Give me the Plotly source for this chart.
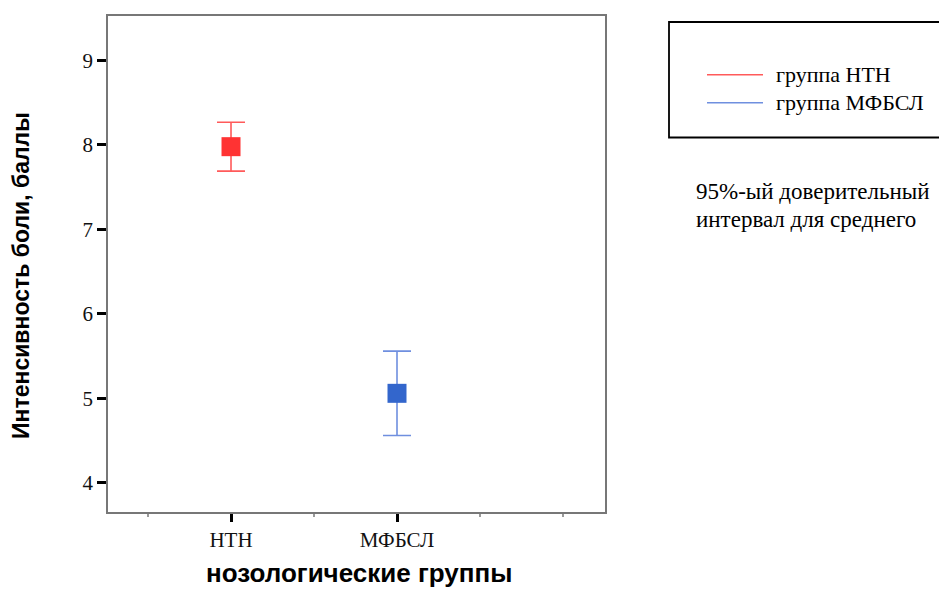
import plotly.graph_objects as go

# ---- data ----
groups = ["НТН", "МФБСЛ"]
group_pos = [1, 2]
means = [7.98, 5.06]
ci_lower = [7.69, 4.56]
ci_upper = [8.27, 5.56]
legend_labels = ["группа НТН", "группа МФБСЛ"]
marker_colors = ["#ff3333", "#3366cc"]
bar_colors = ["#ff5a5a", "#6f8fdf"]
y_ticks = [4, 5, 6, 7, 8, 9]
note_lines = ["95%-ый доверительный", "интервал для среднего"]

OFF = 8  # page body margin
W, H = 947 - OFF, 589 - OFF
# plot area in reference (screen) pixels
PL, PT, PR, PB = 108, 14, 605, 512
L, T = PL - OFF, PT - OFF
R, B = W - (PR - OFF), H - (PB - OFF)
pw, ph = PR - PL, PB - PT

def px(x):
    return (x - PL) / pw

def py(y):
    return (PB - y) / ph

fig = go.Figure()
for i in range(len(groups)):
    fig.add_trace(go.Scatter(
        x=[group_pos[i]], y=[means[i]], mode="markers",
        marker=dict(symbol="square", size=19, color=marker_colors[i]),
        error_y=dict(type="data", symmetric=False,
                     array=[ci_upper[i] - means[i]],
                     arrayminus=[means[i] - ci_lower[i]],
                     color=bar_colors[i], thickness=1.6, width=14),
        showlegend=False, hoverinfo="skip"))

serif = "Liberation Serif"
sans = "Liberation Sans"

fig.update_layout(
    width=W, height=H,
    margin=dict(l=L, r=R, t=T, b=B),
    paper_bgcolor="white", plot_bgcolor="white",
    showlegend=False,
    xaxis=dict(range=[0.259, 3.253], tickvals=group_pos, ticktext=groups,
               showgrid=False, zeroline=False,
               showline=True, linecolor="#777777", linewidth=1.5, mirror=True,
               ticks="outside", ticklen=8, tickwidth=3, tickcolor="black",
               tickfont=dict(family=serif, size=21, color="#111"),
               minor=dict(tickvals=[0.5, 1.5, 2.5, 3.0], ticks="outside",
                          ticklen=3, tickwidth=2, tickcolor="#999999", showgrid=False)),
    yaxis=dict(range=[3.655, 9.527], tickvals=y_ticks,
               showgrid=False, zeroline=False,
               showline=True, linecolor="#777777", linewidth=1.5, mirror=True,
               ticks="outside", ticklen=9, tickwidth=3, tickcolor="black",
               tickfont=dict(family=serif, size=21, color="#111")),
)

# axis titles
fig.add_annotation(xref="paper", yref="paper", x=px(359), y=py(573),
                   text="<b>нозологические группы</b>", showarrow=False,
                   xanchor="center", yanchor="middle", borderpad=0,
                   font=dict(family=sans, size=26, color="black"))
fig.add_annotation(xref="paper", yref="paper", x=px(21), y=py(275),
                   text="<b>Интенсивность боли, баллы</b>", showarrow=False,
                   textangle=-90, xanchor="center", yanchor="middle",
                   font=dict(family=sans, size=23, color="black"))

# legend box (drawn manually)
fig.add_shape(type="rect", xref="paper", yref="paper",
              x0=px(669), x1=px(946), y0=py(136), y1=py(20),
              line=dict(color="black", width=1.8), fillcolor="white")
leg_y = [73, 101]
for i in range(len(legend_labels)):
    fig.add_shape(type="line", xref="paper", yref="paper",
                  x0=px(707), x1=px(763), y0=py(leg_y[i]), y1=py(leg_y[i]),
                  line=dict(color=bar_colors[i], width=1.5))
    fig.add_annotation(xref="paper", yref="paper", x=px(774), y=py(leg_y[i]),
                       text=legend_labels[i], showarrow=False,
                       xanchor="left", yanchor="middle",
                       font=dict(family=serif, size=22, color="black"))

note_y = [190, 218]
for i, t in enumerate(note_lines):
    fig.add_annotation(xref="paper", yref="paper", x=px(694), y=py(note_y[i]),
                       text=t, showarrow=False, xanchor="left", yanchor="middle",
                       font=dict(family=serif, size=23, color="black"))

fig.write_html("out.html")
